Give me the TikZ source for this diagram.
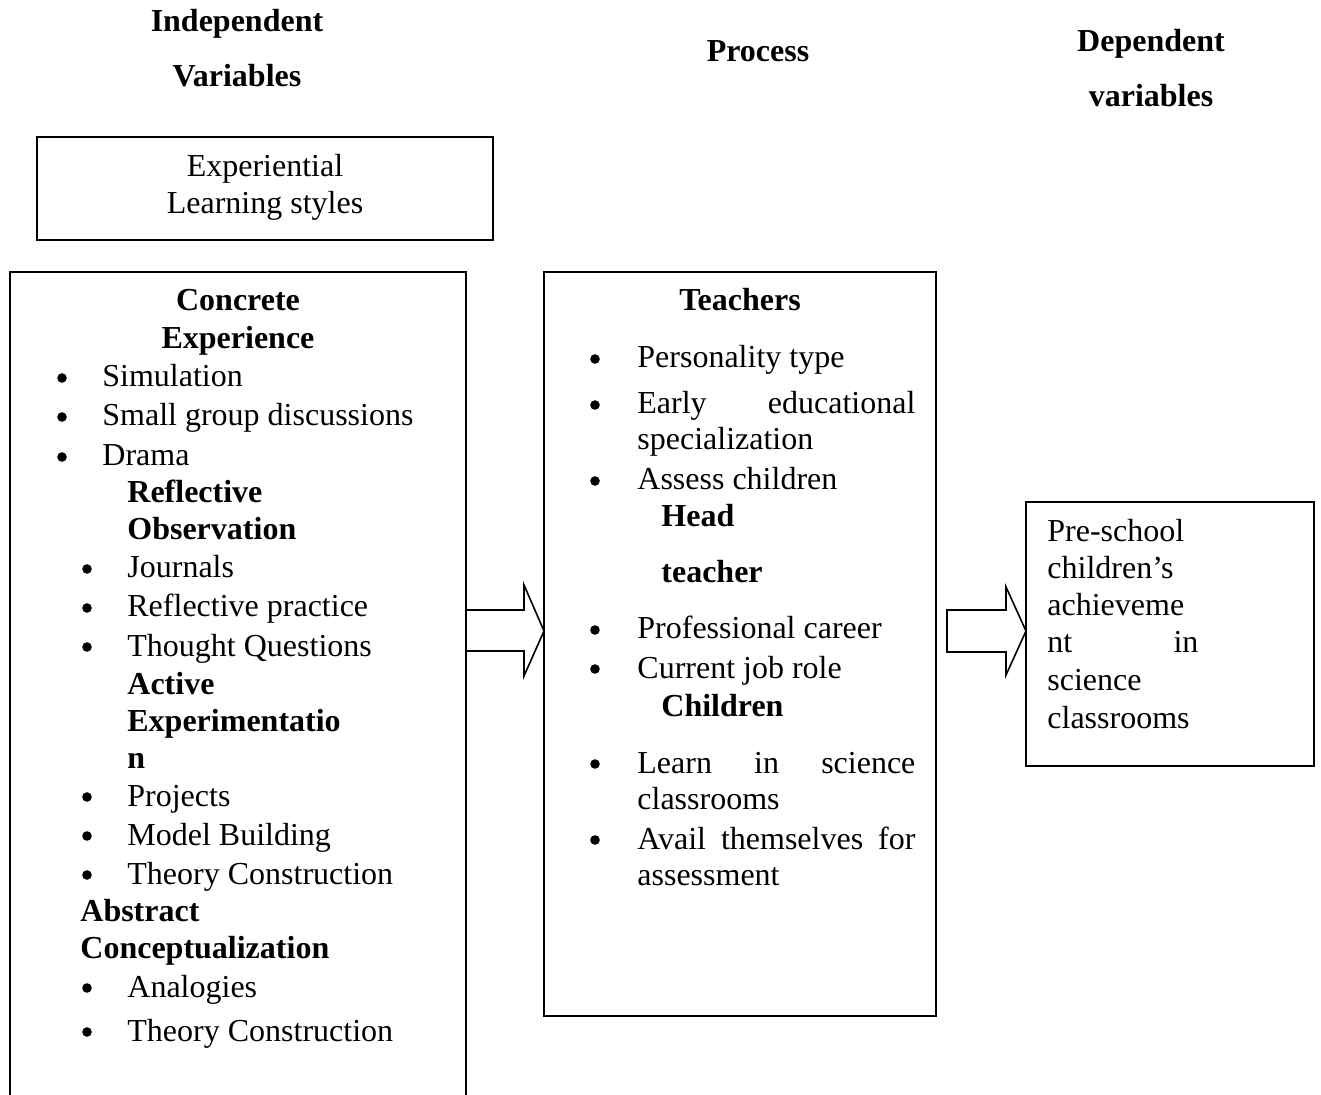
\documentclass[tikz,border=0pt]{standalone}
\usepackage{fontspec}
\setmainfont{Liberation Serif}

\begin{document}
\begin{tikzpicture}[x=0.5pt,y=-0.5pt,font=\fontsize{16}{19}\selectfont]
            \tikzstyle{box}=[draw,line width=1pt,outer sep=0pt,inner sep=0pt]
            \tikzstyle{txt}=[anchor=base west,inner sep=0pt]
            \tikzstyle{ctr}=[anchor=base,inner sep=0pt]
            \tikzstyle{dot}=[circle,fill=black,inner sep=0pt,minimum size=4.8pt]
            \tikzstyle{hd}=[inner sep=0pt,font=\fontsize{16}{19}\selectfont\bfseries]
            \tikzstyle{blockarr}=[line width=0.8pt,line join=miter]
    \useasboundingbox (0,0) rectangle (1321,1095);

    % column headings
    \node[hd,anchor=base] (indep1) at (237,32) {Independent};
    \node[hd,anchor=base] (indep2) at (237,87) {Variables};
    \node[hd,anchor=base] (proc) at (758,62) {Process};
    \node[hd,anchor=base] (dep1) at (1151,52) {Dependent};
    \node[hd,anchor=base] (dep2) at (1151,107) {variables};

    % boxes
    \node[box,minimum width=228pt,minimum height=51.5pt] (elsbox) at (265,188.5) {};
    \node[box,minimum width=228pt,minimum height=414pt] (ivbox) at (238,686) {};
    \node[box,minimum width=196pt,minimum height=372pt] (procbox) at (740,644) {};
    \node[box,minimum width=144pt,minimum height=132pt] (dvbox) at (1170,634) {};

    \node[ctr] (els1) at (265,177) {Experiential};
    \node[ctr] (els2) at (265,214) {Learning styles};

    % independent variables
    \node[hd,anchor=base] (ce) at (238,311) {Concrete};
    \node[hd,anchor=base] (ce0) at (238,349) {Experience};
    \foreach \i/\y/\t in {1/387/Simulation,2/426/Small group discussions,3/466/Drama}
      {\node[dot] (ceb\i) at (62,{\y-9}) {}; \node[txt] (ce\i) at (102,\y) {\t};}
    \node[hd,anchor=base west] (ro) at (127,503) {Reflective};
    \node[hd,anchor=base west] (ro0) at (127,540) {Observation};
    \foreach \i/\y/\t in {1/578/Journals,2/617/Reflective practice,3/656/Thought Questions}
      {\node[dot] (rob\i) at (87,{\y-9}) {}; \node[txt] (ro\i) at (127,\y) {\t};}
    \node[hd,anchor=base west] (ae) at (127,694) {Active};
    \node[hd,anchor=base west] (ae0) at (127,731) {Experimentatio};
    \node[hd,anchor=base west] (ae00) at (127,768) {n};
    \foreach \i/\y/\t in {1/806/Projects,2/845/Model Building,3/884/Theory Construction}
      {\node[dot] (aeb\i) at (87,{\y-9}) {}; \node[txt] (ae\i) at (127,\y) {\t};}
    \node[hd,anchor=base west] (ac) at (80,921) {Abstract};
    \node[hd,anchor=base west] (ac0) at (80,958) {Conceptualization};
    \foreach \i/\y/\t in {1/997/Analogies,2/1041/Theory Construction}
      {\node[dot] (acb\i) at (87,{\y-9}) {}; \node[txt] (ac\i) at (127,\y) {\t};}

    % process
    \node[hd,anchor=base] (tch) at (740,311) {Teachers};
    \foreach \i/\y in {1/368,2/414,3/490,4/639,5/678,6/773,7/849}
      \node[dot] (pb\i) at (595,{\y-9}) {};
    \node[txt] (tch1) at (637,368) {Personality type};
    \node[txt] (tch2) at (637,414) {\makebox[139pt][s]{Early educational}};
    \node[txt] (tch2a) at (637,450) {specialization};
    \node[txt] (tch3) at (637,490) {Assess children};
    \node[hd,anchor=base west] (ht) at (661,527) {Head};
    \node[hd,anchor=base west] (ht0) at (661,582) {teacher};
    \node[txt] (ht1) at (637,639) {Professional career};
    \node[txt] (ht2) at (637,678) {Current job role};
    \node[hd,anchor=base west] (chn) at (661,716) {Children};
    \node[txt] (chn1) at (637,773) {\makebox[139pt][s]{Learn in science}};
    \node[txt] (chn1a) at (637,809) {classrooms};
    \node[txt] (chn2) at (637,849) {\makebox[139pt][s]{Avail themselves for}};
    \node[txt] (chn2a) at (637,885) {assessment};

    % dependent variable
    \node[txt] (dv1) at (1047,542) {Pre-school};
    \node[txt] (dv2) at (1047,579) {children’s};
    \node[txt] (dv3) at (1047,616) {achieveme};
    \node[txt] (dv4) at (1047,653) {\makebox[75.5pt][s]{nt in}};
    \node[txt] (dv5) at (1047,690) {science};
    \node[txt] (dv6) at (1047,728) {classrooms};

    % block arrows
    \draw[blockarr] (ivbox.east |- 0,610) -| (524,585) -- (procbox.west |- 0,631)
      -- (524,676) |- (ivbox.east |- 0,651);
    \coordinate (dvtail) at (947,610);
    \draw[blockarr] (dvtail) -| (1006,587) -- (dvbox.west |- 0,631)
      -- (1006,675) |- (dvtail |- 0,652) -- cycle;
\end{tikzpicture}
\end{document}
